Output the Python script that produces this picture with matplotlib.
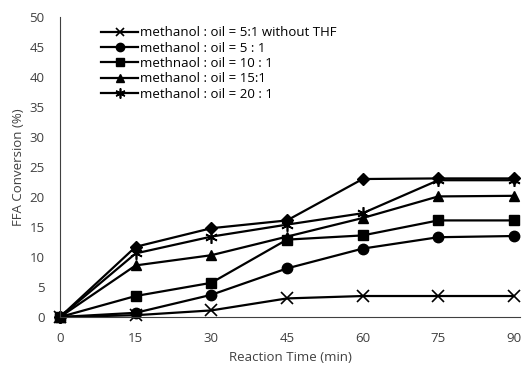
import matplotlib.pyplot as plt

plt.rcParams['font.family'] = ['Open Sans', 'DejaVu Sans']

# reaction time (min)
t = [0, 15, 30, 45, 60, 75, 90]

# FFA conversion (%)
no_thf = [0, 0.3, 1.1, 3.1, 3.5, 3.5, 3.5]
r5 = [0, 0.7, 3.7, 8.1, 11.4, 13.3, 13.5]
r10 = [0, 3.5, 5.7, 12.9, 13.6, 16.1, 16.1]
r15 = [0, 8.6, 10.3, 13.4, 16.5, 20.1, 20.2]
r20 = [0, 10.6, 13.4, 15.4, 17.3, 22.8, 22.8]
extra = [0, 11.7, 14.8, 16.1, 23.0, 23.1, 23.1]

labels = ['methanol : oil = 5:1 without THF',
          'methanol : oil = 5 : 1',
          'methnaol : oil = 10 : 1',
          'methanol : oil = 15:1',
          'methanol : oil = 20 : 1']

fig = plt.figure(figsize=(5.29, 3.67), dpi=100)
ax = fig.add_axes([0.1134, 0.1362, 0.8696, 0.8174])

lw = 1.6
ax.plot(t, extra, color='black', lw=lw, marker='D', ms=6, clip_on=False)
ax.plot(t, no_thf, color='black', lw=lw, marker='x', ms=8, mew=1.2,
        label=labels[0], clip_on=False)
ax.plot(t, r5, color='black', lw=lw, marker='o', ms=7.5, label=labels[1], clip_on=False)
ax.plot(t, r10, color='black', lw=lw, marker='s', ms=6.5, label=labels[2], clip_on=False)
ax.plot(t, r15, color='black', lw=lw, marker='^', ms=7.5, label=labels[3], clip_on=False)
ax.plot(t, r20, color='black', lw=lw, marker=(6, 2, 0), ms=9, mew=1.2,
        label=labels[4], clip_on=False)

ax.set_xlim(0, 91.2)
ax.set_ylim(0, 50)
ax.set_xticks(t)
ax.set_yticks(range(0, 51, 5))
ax.tick_params(length=0, labelsize=9.5, colors='#404040')
ax.tick_params(axis='x', pad=11)
ax.tick_params(axis='y', pad=11)

for s in ['top', 'right']:
    ax.spines[s].set_visible(False)
ax.spines['left'].set_color('#404040')
ax.spines['bottom'].set_color('#404040')
ax.spines['left'].set_linewidth(0.8)
ax.spines['bottom'].set_linewidth(0.8)

ax.set_xlabel('Reaction Time (min)', fontsize=9.5, labelpad=4, color='#404040')
ax.set_ylabel('FFA Conversion (%)', fontsize=9.5, labelpad=3, color='#404040')

leg = ax.legend(loc='upper left', bbox_to_anchor=(0.07, 1.0), frameon=False,
                fontsize=9.5, handlelength=2.8, handletextpad=0.1,
                labelspacing=0.18, borderaxespad=0.3)
for h in leg.legend_handles:
    h.set_markersize(h.get_markersize() * 0.8)

fig.savefig('out.png', dpi=100)
